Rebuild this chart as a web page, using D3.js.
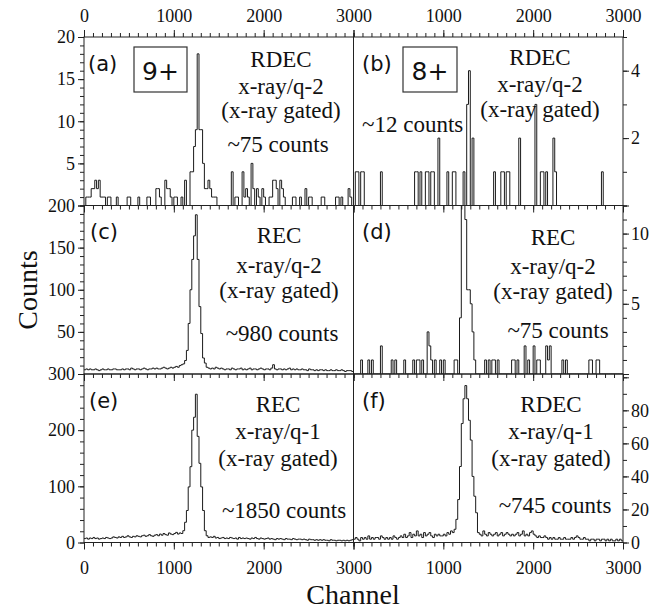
<!DOCTYPE html>
<html><head><meta charset="utf-8">
<script src="https://cdn.jsdelivr.net/npm/d3@7"></script>
<style>body{margin:0;background:#fff}</style></head>
<body><svg id="chart" width="669" height="612"></svg>
<script>
// ---------------- DATA ----------------
const binWidth = 20;               // channels per histogram bin
const nBins = 150;                 // 0..3000
const channelTicks = [0, 1000, 2000, 3000];

// (a) 9+ RDEC x-ray/q-2 : sparse bins (start channel, counts)
const aChannels = [20,40,60,80,100,120,140,160,180,200,220,260,280,360,480,500,600,700,720,800,820,840,900,920,940,960,1000,1020,1080,1120,1180,1200,1220,1240,1260,1280,1300,1320,1340,1360,1380,1400,1420,1440,1460,1640,1680,1700,1760,1780,1800,1820,1860,1880,1920,1940,1980,2000,2060,2080,2100,2120,2140,2180,2200,2220,2320,2340,2400,2460,2500,2520,2640,2660,2800,2820,2860,2940,2960];
const aCounts   = [1,1,1,2,2,3,2,3,1,1,1,1,1,1,1,1,1,1,1,2,2,1,3,2,2,1,1,1,1,3,4,4,7,9,18,9,9,5,2,2,3,2,1,1,1,4,1,1,4,1,2,1,5,2,2,1,2,1,1,1,3,3,2,3,2,1,1,1,1,2,1,1,1,1,1,1,1,2,1];

// (b) 8+ RDEC x-ray/q-2
const bChannels = [20,40,80,100,300,680,700,740,800,820,860,880,940,1040,1100,1120,1220,1260,1280,1320,1560,1640,1660,1700,1720,1840,2020,2080,2100,2140,2220,2240,2760];
const bCounts   = [1,1,1,1,1,1,1,1,1,1,1,1,2,1,1,1,1,3,4,2,1,1,1,1,1,2,3,1,1,1,2,1,1];

// (d) 8+ REC x-ray/q-2
const dChannels = [80,160,200,300,420,460,560,660,700,720,760,820,840,860,900,960,1000,1120,1140,1180,1200,1220,1240,1260,1280,1300,1320,1340,1460,1500,1540,1560,1600,1760,1780,1820,1900,1940,2000,2040,2060,2140,2160,2180,2320,2360,2620,2640,2700,2720];
const dCounts   = [1,1,1,2,1,1,1,1,1,1,1,3,2,1,1,1,1,1,1,4,12,12,11,6,6,5,3,1,1,1,1,1,1,1,1,1,2,1,2,1,1,2,1,2,1,1,1,1,1,1];

// (c) 9+ REC x-ray/q-2 : full 150 bins
const cCounts = [
 5,6,5,6,5,5,6,5,4,5, 6,5,5,6,5,5,6,6,5,5, 5,6,5,6,6,5,7,6,5,6,
 6,5,6,7,6,5,6,6,7,6, 7,6,6,7,8,7,6,7,8,7, 8,9,8,10,11,
 12,16,28,60,100,136,164,189,136,80,48,19,13,8,7,
 6,7,6,8,7,6,7,6,5,6, 6,5,7,6,5,6,6,7,5,6, 5,6,7,5,6,6,5,6,7,6,
 5,6,6,5,7,11,6,5,6,6, 5,6,5,6,7,5,6,5,6,5, 5,6,5,5,4,6,5,5,4,5,
 4,5,5,4,5,4,4,5,4,4, 5,4,4,5,4,3,4,4,4,3];

// (e) 9+ REC x-ray/q-1
const eCounts = [
 7,8,6,8,7,9,7,8,6,7, 8,7,9,8,7,8,10,9,8,10, 9,11,9,10,12,10,9,11,10,12,
 11,10,12,13,11,12,14,12,11,13, 14,12,15,13,16,14,13,17,15,14, 16,18,15,17,
 16,21,36,57,99,135,200,223,264,189,141,99,57,21,12,9,
 10,9,11,8,9,7,8,9,7,8, 7,9,8,7,8,6,9,7,8,7, 8,7,6,8,7,9,7,6,8,7,
 6,7,8,6,7,6,5,7,6,7, 6,5,7,6,6,5,7,6,5,6, 6,5,6,5,4,6,5,5,4,5,
 4,5,4,5,4,4,3,5,4,4, 3,4,4,3,4,3,4,3,4,5];

// (f) 8+ RDEC x-ray/q-1
const fCounts = [
 2,3,2,1,3,2,3,2,4,2, 3,2,3,3,2,4,3,2,3,2, 3,2,4,3,2,3,4,3,5,3,
 4,6,3,5,4,7,4,5,3,6, 4,5,6,4,3,5,4,5,4,4, 5,4,6,5,7,6,
 8,14,26,46,72,87,95,87,74,62,40,28,18,6,
 5,4,7,5,4,6,5,4,5,6, 4,5,6,4,5,6,5,4,5,4, 5,6,4,5,7,4,5,4,6,7,
 5,4,3,4,3,3,4,3,2,3, 2,3,2,2,3,2,2,3,2,2, 2,3,2,3,4,3,2,2,3,2,
 2,1,2,2,1,2,2,1,2,2, 1,2,1,2,1,1,2,1,2,1];

const panelLetters = ["(a)","(b)","(c)","(d)","(e)","(f)"];
const chargeStates = ["9+","8+"];
const processLines = [
  ["RDEC","x-ray/q-2","(x-ray gated)"],
  ["RDEC","x-ray/q-2","(x-ray gated)"],
  ["REC","x-ray/q-2","(x-ray gated)"],
  ["REC","x-ray/q-2","(x-ray gated)"],
  ["REC","x-ray/q-1","(x-ray gated)"],
  ["RDEC","x-ray/q-1","(x-ray gated)"]];
const countLabels = ["~75 counts","~12 counts","~980 counts","~75 counts","~1850 counts","~745 counts"];
const yMaxes  = [20, 5, 200, 12, 300, 102];
const yMajorStep = [5, 2, 50, 5, 100, 20];
const yMinorStep = [1, 1, 10, 1, 20, 10];
const yLabelTicks = [[5,10,15,20],[2,4],[50,100,150,200],[5,10],[0,100,200,300],[0,20,40,60,80]];
const xTitle = "Channel";
const yTitle = "Counts";

// ---------------- LAYOUT ----------------
const serif = "'Liberation Serif','Times New Roman',serif";
const sans = "'DejaVu Sans','Liberation Sans',sans-serif";
const colX = [[84, 353.5], [353.5, 623]];
const rowTop = [37, 205.5, 374];
const rowH = 168.5;
const textLayout = [
  {cx: 281, base: [67, 94, 118], cntX: 278, cntY: 152, cntAnchor: "middle", lx: 88, ly: 71},
  {cx: 540, base: [65, 92, 117], cntX: 362, cntY: 132, cntAnchor: "start",  lx: 362, ly: 71},
  {cx: 279, base: [243, 273, 298], cntX: 282, cntY: 341, cntAnchor: "middle", lx: 90, ly: 239},
  {cx: 553, base: [245, 274, 299], cntX: 558, cntY: 338, cntAnchor: "middle", lx: 362, ly: 239},
  {cx: 278, base: [412, 439, 466], cntX: 284, cntY: 518, cntAnchor: "middle", lx: 89, ly: 408},
  {cx: 551, base: [412, 439, 466], cntX: 555, cntY: 513, cntAnchor: "middle", lx: 362, ly: 408}];
const boxes = [{x:134, y:47, w:53, h:45}, {x:403, y:47, w:54, h:45}];

// ---------------- BUILD ----------------
function denseFromSparse(ch, ct) {
  const arr = new Array(nBins).fill(0);
  ch.forEach((c, i) => { arr[Math.round(c / binWidth)] = ct[i]; });
  return arr;
}
const series = [
  denseFromSparse(aChannels, aCounts),
  denseFromSparse(bChannels, bCounts),
  cCounts,
  denseFromSparse(dChannels, dCounts),
  eCounts,
  fCounts];

const svg = d3.select("#chart");
const xScales = colX.map(r => d3.scaleLinear().domain([0, 3000]).range(r));
const minorX = d3.range(0, 3001, 100);

function styleAxis(g) {
  g.select(".domain").remove();
  g.selectAll("line").attr("stroke", "#222").attr("stroke-width", 1);
  g.selectAll("text").attr("font-family", serif).attr("font-size", 18).attr("fill", "#111");
}

for (let p = 0; p < 6; p++) {
  const col = p % 2, row = Math.floor(p / 2);
  const x = xScales[col];
  const top = rowTop[row], bot = top + rowH;
  const y = d3.scaleLinear().domain([0, yMaxes[p]]).range([bot, top]);

  const id = "clip" + p;
  svg.append("clipPath").attr("id", id).append("rect")
    .attr("x", colX[col][0]).attr("y", top).attr("width", colX[col][1] - colX[col][0]).attr("height", rowH);

  // histogram
  const vals = series[p];
  const pts = vals.map((v, i) => [i * binWidth, v]);
  pts.push([3000, vals[vals.length - 1]]);
  const line = d3.line().x(d => x(d[0])).y(d => y(d[1])).curve(d3.curveStepAfter);
  svg.append("path").attr("d", line(pts)).attr("fill", "none")
    .attr("stroke", "#1a1a1a").attr("stroke-width", 1).attr("clip-path", `url(#${id})`);

  // y axes
  const yMinor = d3.range(0, yMaxes[p] + 1e-9, yMinorStep[p]);
  const yMajor = d3.range(0, yMaxes[p] + 1e-9, yMajorStep[p]);
  const labelSet = new Set(yLabelTicks[p]);
  if (col === 0) {
    svg.append("g").attr("transform", `translate(${colX[0][0]},0)`)
      .call(d3.axisLeft(y).tickValues(yMinor).tickSize(4).tickFormat("")).call(styleAxis);
    svg.append("g").attr("transform", `translate(${colX[0][0]},0)`)
      .call(d3.axisLeft(y).tickValues(yMajor).tickSize(6).tickPadding(3)
        .tickFormat(d => labelSet.has(d) ? d : "")).call(styleAxis);
  } else {
    svg.append("g").attr("transform", `translate(${colX[1][1]},0)`)
      .call(d3.axisRight(y).tickValues(yMinor).tickSize(4).tickFormat("")).call(styleAxis);
    svg.append("g").attr("transform", `translate(${colX[1][1]},0)`)
      .call(d3.axisRight(y).tickValues(yMajor).tickSize(6).tickPadding(2)
        .tickFormat(d => labelSet.has(d) ? d : "")).call(styleAxis);
  }

  // x ticks at bottom of each panel (outward)
  const showLabels = row === 2;
  svg.append("g").attr("transform", `translate(0,${bot})`)
    .call(d3.axisBottom(x).tickValues(minorX).tickSize(4).tickFormat("")).call(styleAxis);
  svg.append("g").attr("transform", `translate(0,${bot})`)
    .call(d3.axisBottom(x).tickValues(channelTicks).tickSize(7).tickPadding(12)
      .tickFormat(d => (showLabels && !(col === 1 && d === 0)) ? d : "")).call(styleAxis);
  if (row === 0) {
    svg.append("g").attr("transform", `translate(0,${top})`)
      .call(d3.axisTop(x).tickValues(minorX).tickSize(4).tickFormat("")).call(styleAxis);
    svg.append("g").attr("transform", `translate(0,${top})`)
      .call(d3.axisTop(x).tickValues(channelTicks).tickSize(7).tickPadding(8)
        .tickFormat(d => (col === 1 && d === 0) ? "" : d)).call(styleAxis);
  }

  // frame
  svg.append("rect").attr("x", colX[col][0]).attr("y", top)
    .attr("width", colX[col][1] - colX[col][0]).attr("height", rowH)
    .attr("fill", "none").attr("stroke", "#222").attr("stroke-width", 1);

  // annotations
  const L = textLayout[p];
  svg.append("text").attr("x", L.lx).attr("y", L.ly).text(panelLetters[p])
    .attr("font-family", sans).attr("font-size", 21).attr("fill", "#111");
  processLines[p].forEach((t, i) => {
    svg.append("text").attr("x", L.cx).attr("y", L.base[i]).attr("text-anchor", "middle")
      .attr("font-family", serif).attr("font-size", 23).attr("fill", "#111").text(t);
  });
  svg.append("text").attr("x", L.cntX).attr("y", L.cntY).attr("text-anchor", L.cntAnchor)
    .attr("font-family", serif).attr("font-size", 23).attr("fill", "#111").text(countLabels[p]);
}

// charge-state boxes
boxes.forEach((b, i) => {
  svg.append("rect").attr("x", b.x).attr("y", b.y).attr("width", b.w).attr("height", b.h)
    .attr("fill", "#fff").attr("stroke", "#333").attr("stroke-width", 1.2);
  svg.append("text").attr("x", b.x + b.w / 2).attr("y", b.y + 33).attr("text-anchor", "middle")
    .attr("font-family", sans).attr("font-size", 25).attr("fill", "#111").text(chargeStates[i]);
});

// axis titles
svg.append("text").attr("transform", "translate(37,290) rotate(-90)").attr("text-anchor", "middle")
  .attr("font-family", serif).attr("font-size", 28).attr("fill", "#111").text(yTitle);
svg.append("text").attr("x", 353).attr("y", 604).attr("text-anchor", "middle")
  .attr("font-family", serif).attr("font-size", 28).attr("fill", "#111").text(xTitle);
</script></body></html>
